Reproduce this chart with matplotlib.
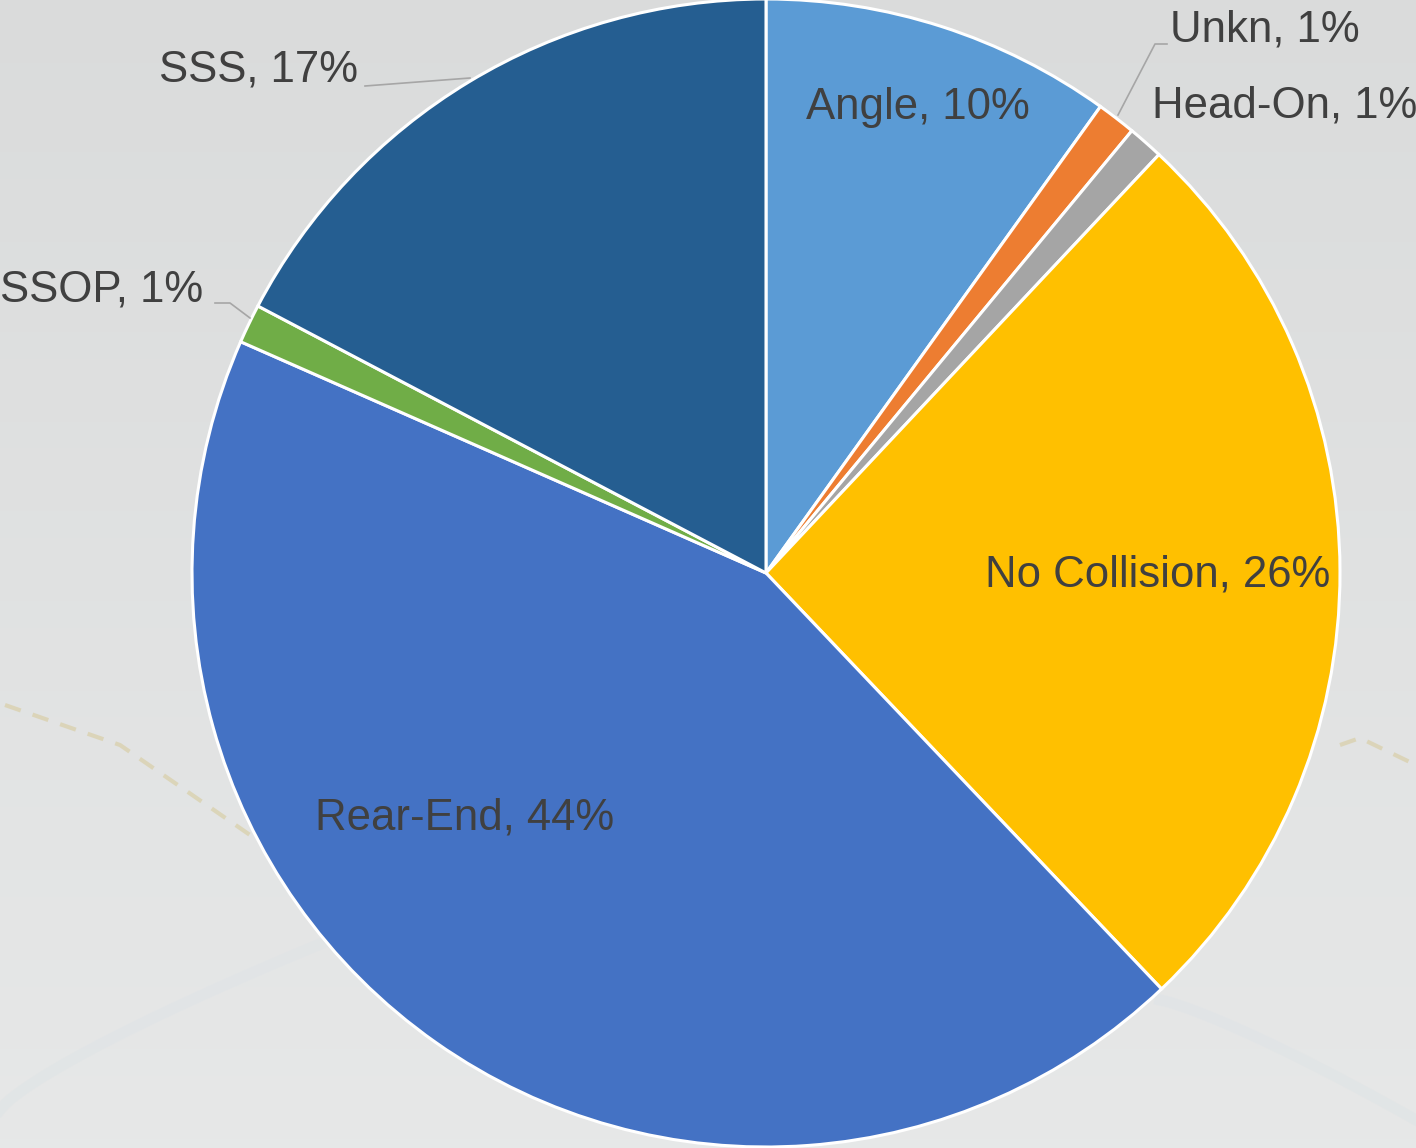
import numpy as np
import matplotlib.pyplot as plt

# collision types, clockwise from 12 o'clock
labels = ['Angle', 'Unkn', 'Head-On', 'No Collision', 'Rear-End', 'SSOP', 'SSS']
shares = [9.9, 1.1, 1.0, 25.9, 43.7, 1.1, 17.3]
pct_text = ['10%', '1%', '1%', '26%', '44%', '1%', '17%']
colors = ['#5B9BD5', '#ED7D31', '#A5A5A5', '#FFC000', '#4472C4', '#70AD47', '#255E91']

W, H = 1416, 1148
family = 'Liberation Sans'

fig = plt.figure(figsize=(W / 100, H / 100), dpi=100)
ax = fig.add_axes([0, 0, 1, 1])

# background: soft gray gradient (darker at top) with faint decorations
grad = np.linspace(0, 1, 256)[:, None]
bg = np.empty((256, 1, 3))
top = np.array([0.855, 0.86, 0.86])
bot = np.array([0.905, 0.91, 0.91])
bg[:, 0, :] = top + (bot - top) * grad
ax.imshow(bg, extent=(0, W, 0, H), origin='upper', aspect='auto', zorder=0)
ax.plot([5, 120, 250], [H - 705, H - 745, H - 835], ls=(0, (4, 3)), lw=3,
        color='#d9cfa8', alpha=0.7, zorder=1)
ax.plot([1340, 1360, 1416], [H - 745, H - 738, H - 765], ls=(0, (4, 3)), lw=3,
        color='#d9cfa8', alpha=0.7, zorder=1)
t = np.linspace(0, 1, 60)
ax.plot(0 + 330 * t, H - (1110 - 170 * t ** 0.8), lw=8, color='#dfe4e6', alpha=0.6, zorder=1)
ax.plot(1160 + 256 * t, H - (1000 + 120 * t ** 1.2), lw=8, color='#dfe4e6', alpha=0.6, zorder=1)

cx, cy, r = 766, H - 573, 574
wedges, _ = ax.pie(shares, colors=colors, startangle=90, counterclock=False,
                   center=(cx, cy), radius=r, frame=True,
                   wedgeprops=dict(edgecolor='white', linewidth=2.2))
for w in wedges:
    w.set_zorder(2)
ax.set_xlim(0, W)
ax.set_ylim(0, H)
ax.set_aspect('equal')
ax.axis('off')

fs = 31.5
tc = '#404040'

# inside labels
inside = {0: (918, 108), 3: (1158, 575), 4: (465, 818)}
for i, (x, y) in inside.items():
    ax.text(x, H - y, f'{labels[i]}, {pct_text[i]}', ha='center', va='center',
            fontsize=fs, color=tc, family=family, zorder=3)

# outside labels with leader lines
lc = '#a6a6a6'
ax.text(1170, H - 30, f'{labels[1]}, {pct_text[1]}', ha='left', va='center',
        fontsize=fs, color=tc, family=family, zorder=3)
ax.plot([1118, 1155, 1167], [H - 115, H - 44, H - 44], color=lc, lw=1.2, zorder=3)
ax.text(1152, H - 106, f'{labels[2]}, {pct_text[2]}', ha='left', va='center',
        fontsize=fs, color=tc, family=family, zorder=3)
ax.text(358, H - 70, f'{labels[6]}, {pct_text[6]}', ha='right', va='center',
        fontsize=fs, color=tc, family=family, zorder=3)
ax.plot([470, 365], [H - 78, H - 86], color=lc, lw=1.2, zorder=3)
ax.text(203, H - 290, f'{labels[5]}, {pct_text[5]}', ha='right', va='center',
        fontsize=fs, color=tc, family=family, zorder=3)
ax.plot([250, 230, 215], [H - 318, H - 303, H - 303], color=lc, lw=1.2, zorder=3)

fig.savefig('out.png', dpi=100)
